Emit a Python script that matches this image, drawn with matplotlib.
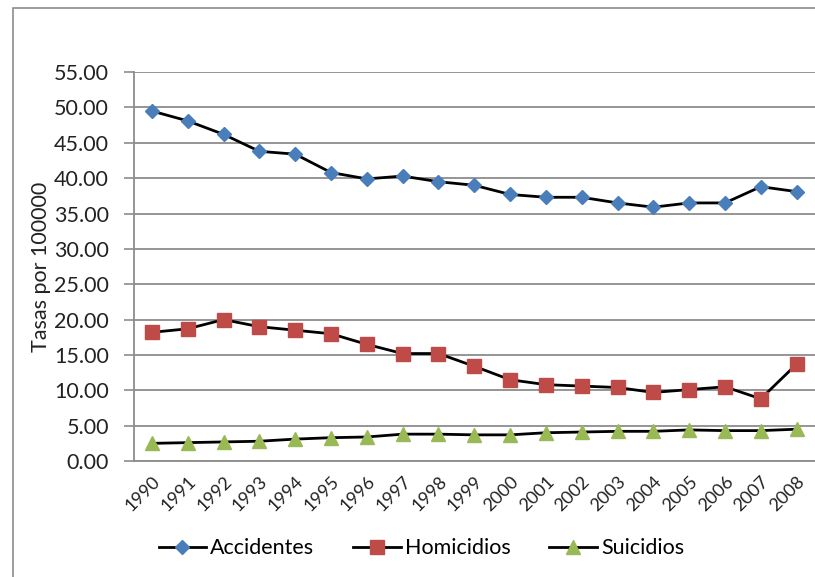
import matplotlib.pyplot as plt
from matplotlib.patches import Rectangle

# Data
years = [str(y) for y in range(1990, 2009)]
accidentes = [49.5, 48.1, 46.2, 43.8, 43.4, 40.8, 39.9, 40.3, 39.5, 39.0,
              37.7, 37.3, 37.3, 36.5, 35.9, 36.5, 36.5, 38.8, 38.1]
homicidios = [18.2, 18.7, 20.0, 19.0, 18.5, 18.0, 16.5, 15.2, 15.2, 13.4,
              11.5, 10.8, 10.6, 10.4, 9.7, 10.1, 10.5, 8.8, 13.7]
suicidios = [2.5, 2.6, 2.7, 2.8, 3.1, 3.3, 3.4, 3.8, 3.8, 3.7,
             3.7, 4.0, 4.1, 4.2, 4.2, 4.4, 4.3, 4.3, 4.5]
yticks = [0, 5, 10, 15, 20, 25, 30, 35, 40, 45, 50, 55]

plt.rcParams['font.family'] = ['Lato', 'DejaVu Sans']

fig = plt.figure(figsize=(8.15, 5.77), dpi=100)
ax = fig.add_axes([0.1644, 0.201, 0.835, 0.674])

# outer chart border
fig.patches.append(Rectangle((13 / 815, 1 - 590 / 577), 830 / 815, 582 / 577,
                             transform=fig.transFigure, fill=False,
                             edgecolor='#8c8c8c', linewidth=1.2))

x = list(range(len(years)))
ax.plot(x, accidentes, color='black', lw=2, marker='D', ms=7,
        mfc='#4a7ebb', mec='#4a7ebb', label='Accidentes')
ax.plot(x, homicidios, color='black', lw=2, marker='s', ms=10,
        mfc='#be4b48', mec='#be4b48', label='Homicidios')
ax.plot(x, suicidios, color='black', lw=2, marker='^', ms=10,
        mfc='#98b954', mec='#98b954', label='Suicidios')

ax.set_xlim(-0.5, len(years) - 0.5)
ax.set_ylim(0, 55)
ax.set_yticks(yticks)
ax.set_yticklabels(['%.2f' % v for v in yticks], fontsize=15.5, color='#222222')
ax.set_xticks(x)
ax.set_xticklabels(years, rotation=45, ha='right', rotation_mode='anchor',
                   fontsize=13, color='#222222')
ax.tick_params(axis='x', length=0, pad=9)
ax.tick_params(axis='y', length=7, color='#8c8c8c', width=1.2, pad=11)
ax.set_ylabel('Tasas por 100000', fontsize=15.5, color='#222222', labelpad=2)

ax.grid(axis='y', color='#8c8c8c', lw=1.3)
ax.set_axisbelow(True)
for s in ['top', 'right']:
    ax.spines[s].set_visible(False)
for s in ['left', 'bottom']:
    ax.spines[s].set_color('#8c8c8c')
    ax.spines[s].set_linewidth(1.3)

ax.legend(loc='center', bbox_to_anchor=(0.517, 0.05),
          bbox_transform=fig.transFigure, ncol=3, frameon=False, fontsize=15.5,
          handlelength=2.2, handletextpad=0.2, columnspacing=1.8)

fig.savefig('out.png', dpi=100)
